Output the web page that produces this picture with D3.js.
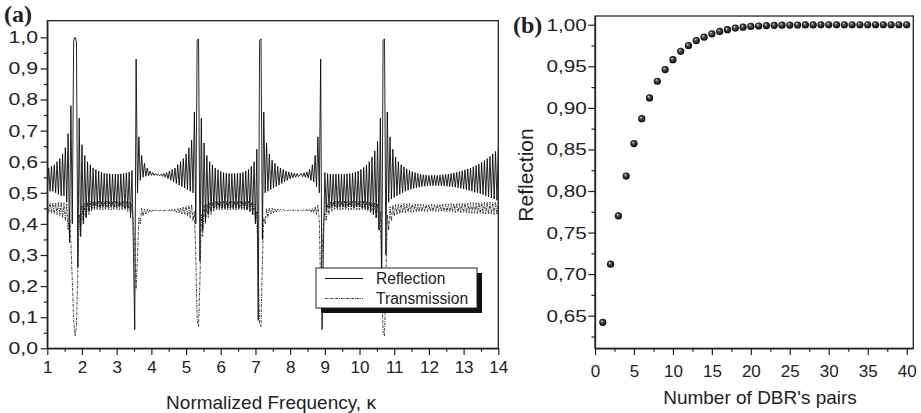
<!DOCTYPE html>
<html><head><meta charset="utf-8">
<script src="https://cdn.jsdelivr.net/npm/d3@7"></script>
<style>
body{margin:0;background:#fff}
text{font-family:"Liberation Sans",Arial,Helvetica,sans-serif;fill:#222}
</style>
</head><body>
<svg id="c" width="921" height="413"></svg>
<script>
// ---------- DATA ----------
// Panel (a): spectra sampled on a uniform kappa grid (start, step)
const kappaStart = 1, kappaStep = 0.04;
const reflection = [
0.51,0.58,0.505,0.585,0.505,0.59,0.50,0.60,0.495,0.61,
0.49,0.625,0.49,0.645,0.47,0.69,0.34,0.78,0.40,0.99,
1.00,0.985,0.26,0.74,0.36,0.655,0.40,0.62,0.42,0.60,
0.44,0.59,0.45,0.58,0.45,0.575,0.455,0.57,0.455,0.566,
0.455,0.563,0.455,0.562,0.455,0.561,0.455,0.56,0.455,0.56,
0.455,0.56,0.455,0.561,0.455,0.562,0.45,0.564,0.45,0.567,
0.42,0.572,0.33,0.06,0.93,0.50,0.68,0.54,0.62,0.55,
0.595,0.553,0.58,0.555,0.57,0.556,0.565,0.556,0.562,0.556,
0.56,0.555,0.56,0.553,0.562,0.55,0.565,0.545,0.57,0.54,
0.575,0.535,0.58,0.53,0.59,0.525,0.60,0.52,0.61,0.515,
0.625,0.51,0.645,0.505,0.67,0.50,0.76,0.40,0.99,0.995,
0.28,0.74,0.38,0.66,0.41,0.62,0.43,0.60,0.44,0.59,
0.45,0.58,0.45,0.574,0.45,0.569,0.45,0.565,0.45,0.563,
0.45,0.562,0.45,0.562,0.45,0.562,0.45,0.563,0.45,0.564,
0.45,0.566,0.45,0.57,0.445,0.575,0.44,0.585,0.43,0.60,
0.40,0.64,0.09,0.99,0.995,0.35,0.76,0.50,0.66,0.505,
0.625,0.51,0.605,0.515,0.595,0.52,0.585,0.525,0.58,0.53,
0.575,0.535,0.57,0.54,0.567,0.545,0.565,0.548,0.563,0.55,
0.562,0.552,0.557,0.562,0.552,0.564,0.55,0.567,0.548,0.575,
0.54,0.59,0.535,0.62,0.52,0.68,0.50,0.93,0.06,0.33,
0.565,0.44,0.562,0.45,0.56,0.455,0.56,0.455,0.56,0.455,
0.56,0.455,0.56,0.455,0.56,0.455,0.561,0.455,0.562,0.455,
0.564,0.455,0.567,0.455,0.57,0.455,0.575,0.45,0.582,0.45,
0.59,0.45,0.60,0.44,0.615,0.43,0.635,0.42,0.665,0.38,
0.74,0.20,0.99,0.995,0.30,0.76,0.47,0.68,0.48,0.64,
0.485,0.615,0.49,0.60,0.495,0.59,0.50,0.583,0.505,0.577,
0.508,0.572,0.511,0.568,0.514,0.565,0.516,0.562,0.518,0.56,
0.52,0.558,0.521,0.557,0.522,0.556,0.523,0.556,0.523,0.556,
0.523,0.556,0.523,0.557,0.522,0.558,0.522,0.559,0.521,0.56,
0.52,0.562,0.519,0.564,0.518,0.566,0.516,0.568,0.514,0.571,
0.512,0.574,0.51,0.577,0.507,0.58,0.505,0.584,0.502,0.588,
0.50,0.593,0.497,0.598,0.494,0.604,0.49,0.61,0.487,0.617,
0.483,0.625,0.48,0.633,0.476,0.642];
const transmission = [
0.465,0.435,0.467,0.434,0.468,0.432,0.468,0.43,0.47,0.427,
0.47,0.42,0.468,0.41,0.465,0.38,0.44,0.34,0.22,0.09,
0.04,0.07,0.25,0.43,0.36,0.46,0.40,0.465,0.42,0.47,
0.43,0.472,0.44,0.473,0.445,0.473,0.445,0.473,0.445,0.473,
0.445,0.473,0.445,0.473,0.445,0.473,0.445,0.473,0.445,0.473,
0.445,0.473,0.445,0.473,0.445,0.473,0.445,0.472,0.44,0.47,
0.43,0.465,0.41,0.33,0.19,0.30,0.42,0.40,0.45,0.425,
0.448,0.432,0.447,0.436,0.446,0.438,0.445,0.44,0.445,0.441,
0.444,0.442,0.444,0.442,0.444,0.442,0.445,0.441,0.446,0.44,
0.447,0.439,0.448,0.437,0.45,0.435,0.452,0.432,0.455,0.43,
0.458,0.425,0.46,0.42,0.462,0.41,0.44,0.30,0.09,0.07,
0.22,0.43,0.36,0.46,0.40,0.465,0.42,0.468,0.43,0.47,
0.44,0.472,0.445,0.473,0.445,0.473,0.445,0.473,0.445,0.473,
0.445,0.473,0.445,0.473,0.445,0.473,0.445,0.473,0.445,0.473,
0.445,0.473,0.445,0.473,0.445,0.472,0.44,0.47,0.43,0.465,
0.40,0.44,0.25,0.08,0.07,0.28,0.42,0.40,0.45,0.42,
0.452,0.43,0.45,0.435,0.449,0.438,0.448,0.44,0.447,0.441,
0.446,0.442,0.445,0.443,0.445,0.443,0.445,0.443,0.445,0.443,
0.445,0.443,0.444,0.445,0.442,0.446,0.441,0.447,0.44,0.448,
0.438,0.45,0.435,0.455,0.43,0.46,0.41,0.19,0.30,0.40,
0.44,0.41,0.465,0.43,0.47,0.44,0.472,0.445,0.473,0.445,
0.473,0.445,0.473,0.445,0.473,0.445,0.473,0.445,0.473,0.445,
0.473,0.445,0.473,0.445,0.473,0.445,0.473,0.445,0.473,0.445,
0.473,0.44,0.472,0.435,0.47,0.43,0.468,0.42,0.465,0.38,
0.44,0.22,0.05,0.04,0.22,0.43,0.38,0.455,0.41,0.46,
0.425,0.462,0.43,0.464,0.433,0.465,0.435,0.466,0.436,0.466,
0.437,0.466,0.437,0.465,0.438,0.465,0.438,0.464,0.439,0.464,
0.439,0.463,0.44,0.463,0.44,0.463,0.44,0.463,0.44,0.463,
0.44,0.463,0.44,0.463,0.44,0.463,0.439,0.464,0.439,0.464,
0.438,0.465,0.438,0.465,0.437,0.466,0.437,0.466,0.436,0.467,
0.436,0.467,0.435,0.467,0.435,0.468,0.434,0.468,0.434,0.468,
0.433,0.469,0.433,0.469,0.432,0.469,0.432,0.47,0.431,0.47,
0.431,0.47,0.43,0.47,0.43,0.47];
const seriesNames = ["Reflection", "Transmission"];
const xTicksA = [1,2,3,4,5,6,7,8,9,10,11,12,13,14];
const yTicksA = [0,0.1,0.2,0.3,0.4,0.5,0.6,0.7,0.8,0.9,1.0];

// Panel (b): reflection vs number of DBR pairs
const dbrPairs = [1,2,3,4,5,6,7,8,9,10,11,12,13,14,15,16,17,18,19,20,21,22,23,24,25,26,27,28,29,30,31,32,33,34,35,36,37,38,39,40];
const reflectionByPairs = [0.642,0.712,0.770,0.818,0.857,0.887,0.912,0.932,0.946,0.958,0.968,0.975,0.981,0.985,0.989,0.992,0.994,0.996,0.997,0.998,0.9985,0.999,0.9993,0.9995,0.9996,0.9997,0.9998,0.9998,0.9999,0.9999,0.9999,1.0,1.0,1.0,1.0,1.0,1.0,1.0,1.0,1.0];
const xTicksB = [0,5,10,15,20,25,30,35,40];
const yTicksB = [0.65,0.70,0.75,0.80,0.85,0.90,0.95,1.00];

// ---------- DRAW ----------
const svg = d3.select("#c");
const commaFmt = f => d => d3.format(f)(d).replace(".", ",");
const defs = svg.append("defs");
const grad = defs.append("radialGradient").attr("id","ball")
  .attr("cx","0.5").attr("cy","0.5").attr("r","0.5").attr("fx","0.35").attr("fy","0.3");
grad.append("stop").attr("offset","0").attr("stop-color","#eeeeee");
grad.append("stop").attr("offset","0.35").attr("stop-color","#555555");
grad.append("stop").attr("offset","1").attr("stop-color","#000000");

function styleAxis(g){
  g.selectAll(".domain").attr("stroke","#222").attr("stroke-width",1.3);
  g.selectAll(".tick line").attr("stroke","#222").attr("stroke-width",1.2);
  g.selectAll("text").attr("fill","#222").style("font-size","17px")
    .style("font-family",'"Liberation Sans",Arial,sans-serif');
}
// widen y tick labels horizontally (anchored at their right end)
function widenY(g, sx){
  g.selectAll(".tick text").each(function(){
    const t = d3.select(this); const x = +t.attr("x");
    t.attr("x",0).attr("transform",`translate(${x},0) scale(${sx},1)`);
  });
}
function minorTicks(arr){
  const out=[]; for(let i=0;i<arr.length-1;i++) out.push((arr[i]+arr[i+1])/2); return out;
}

// ===== Panel (a) =====
const A = {l:47.3, r:498.3, t:20.7, b:348.3};
const xA = d3.scaleLinear().domain([1,14]).range([A.l,A.r]);
const yA = d3.scaleLinear().domain([0,1.0534]).range([A.b,A.t]);
defs.append("clipPath").attr("id","clipA").append("rect")
  .attr("x",A.l).attr("y",A.t).attr("width",A.r-A.l).attr("height",A.b-A.t);

const gA = svg.append("g");
const lineA = d3.line().x((d,i)=>xA(kappaStart+i*kappaStep)).y(d=>yA(d));
gA.append("path").datum(reflection).attr("clip-path","url(#clipA)")
  .attr("d",lineA).attr("fill","none").attr("stroke","#000").attr("stroke-width",0.85);
gA.append("path").datum(transmission).attr("clip-path","url(#clipA)")
  .attr("d",lineA).attr("fill","none").attr("stroke","#222").attr("stroke-width",0.9)
  .attr("stroke-dasharray","2.5,1,0.8,1");

gA.append("rect").attr("x",A.l).attr("y",A.t).attr("width",A.r-A.l).attr("height",A.b-A.t)
  .attr("fill","none").attr("stroke","#222").attr("stroke-width",1.3);

gA.append("g").attr("transform",`translate(0,${A.b})`)
  .call(d3.axisBottom(xA).tickValues(minorTicks(xTicksA)).tickSize(3.5).tickFormat(""))
  .call(g=>{g.select(".domain").remove(); styleAxis(g);});
gA.append("g").attr("transform",`translate(0,${A.b})`)
  .call(d3.axisBottom(xA).tickValues(xTicksA).tickSize(6.7).tickSizeOuter(0).tickPadding(6.3).tickFormat(d3.format("d")))
  .call(styleAxis);
gA.append("g").attr("transform",`translate(${A.l},0)`)
  .call(d3.axisLeft(yA).tickValues(minorTicks(yTicksA)).tickSize(3.5).tickFormat(""))
  .call(g=>{g.select(".domain").remove(); styleAxis(g);});
gA.append("g").attr("transform",`translate(${A.l},0)`)
  .call(d3.axisLeft(yA).tickValues(yTicksA).tickSize(6.7).tickSizeOuter(0).tickPadding(2.5).tickFormat(commaFmt(".1f")))
  .call(styleAxis).call(g=>widenY(g,1.25));

// legend
const lg = gA.append("g");
lg.append("rect").attr("x",321).attr("y",273).attr("width",161).attr("height",40).attr("fill","#111");
lg.append("rect").attr("x",316).attr("y",268).attr("width",161).attr("height",40)
  .attr("fill","#fff").attr("stroke","#222").attr("stroke-width",1);
lg.append("line").attr("x1",325).attr("x2",363).attr("y1",278.5).attr("y2",278.5)
  .attr("stroke","#111").attr("stroke-width",1);
lg.append("line").attr("x1",325).attr("x2",363).attr("y1",298.5).attr("y2",298.5)
  .attr("stroke","#333").attr("stroke-width",1).attr("stroke-dasharray","2.5,1,0.8,1");
lg.append("text").attr("x",376).attr("y",284).style("font-size","15.6px").text(seriesNames[0]);
lg.append("text").attr("x",376).attr("y",304).style("font-size","15.6px").text(seriesNames[1]);

svg.append("text").attr("x",271).attr("y",409).attr("text-anchor","middle")
  .style("font-size","19px").text("Normalized Frequency, κ");
svg.append("text").attr("x",4).attr("y",22)
  .style("font-family",'"Liberation Serif","Times New Roman",serif').style("font-weight","bold")
  .style("font-size","24px").text("(a)");

// ===== Panel (b) =====
const B = {l:595, r:913.3, t:16, b:348.3};
const xB = d3.scaleLinear().domain([0,40.85]).range([B.l,B.r]);
const yB = d3.scaleLinear().domain([0.6108,1.0105]).range([B.b,B.t]);
const gB = svg.append("g");
gB.append("rect").attr("x",B.l).attr("y",B.t).attr("width",B.r-B.l).attr("height",B.b-B.t)
  .attr("fill","none").attr("stroke","#222").attr("stroke-width",1.3);
gB.append("g").attr("transform",`translate(0,${B.b})`)
  .call(d3.axisBottom(xB).tickValues(minorTicks(xTicksB)).tickSize(3.5).tickFormat(""))
  .call(g=>{g.select(".domain").remove(); styleAxis(g);});
gB.append("g").attr("transform",`translate(0,${B.b})`)
  .call(d3.axisBottom(xB).tickValues(xTicksB).tickSize(6.7).tickSizeOuter(0).tickPadding(10).tickFormat(d3.format("d")))
  .call(styleAxis);
gB.append("g").attr("transform",`translate(${B.l},0)`)
  .call(d3.axisLeft(yB).tickValues([0.625].concat(minorTicks(yTicksB))).tickSize(3.5).tickFormat(""))
  .call(g=>{g.select(".domain").remove(); styleAxis(g);});
gB.append("g").attr("transform",`translate(${B.l},0)`)
  .call(d3.axisLeft(yB).tickValues(yTicksB).tickSize(6.7).tickSizeOuter(0).tickPadding(1.5).tickFormat(commaFmt(".2f")))
  .call(styleAxis).call(g=>widenY(g,1.22));

gB.selectAll("circle.pt").data(dbrPairs).join("circle").attr("class","pt")
  .attr("cx",d=>xB(d)).attr("cy",(d,i)=>yB(reflectionByPairs[i])).attr("r",3.6)
  .attr("fill","url(#ball)");

svg.append("text").attr("x",760).attr("y",404).attr("text-anchor","middle")
  .style("font-size","19px").text("Number of DBR's pairs");
svg.append("text").attr("transform","translate(533,175) rotate(-90)").attr("text-anchor","middle")
  .style("font-size","21px").text("Reflection");
svg.append("text").attr("x",513).attr("y",33)
  .style("font-family",'"Liberation Serif","Times New Roman",serif').style("font-weight","bold")
  .style("font-size","24px").text("(b)");
</script>
</body></html>
